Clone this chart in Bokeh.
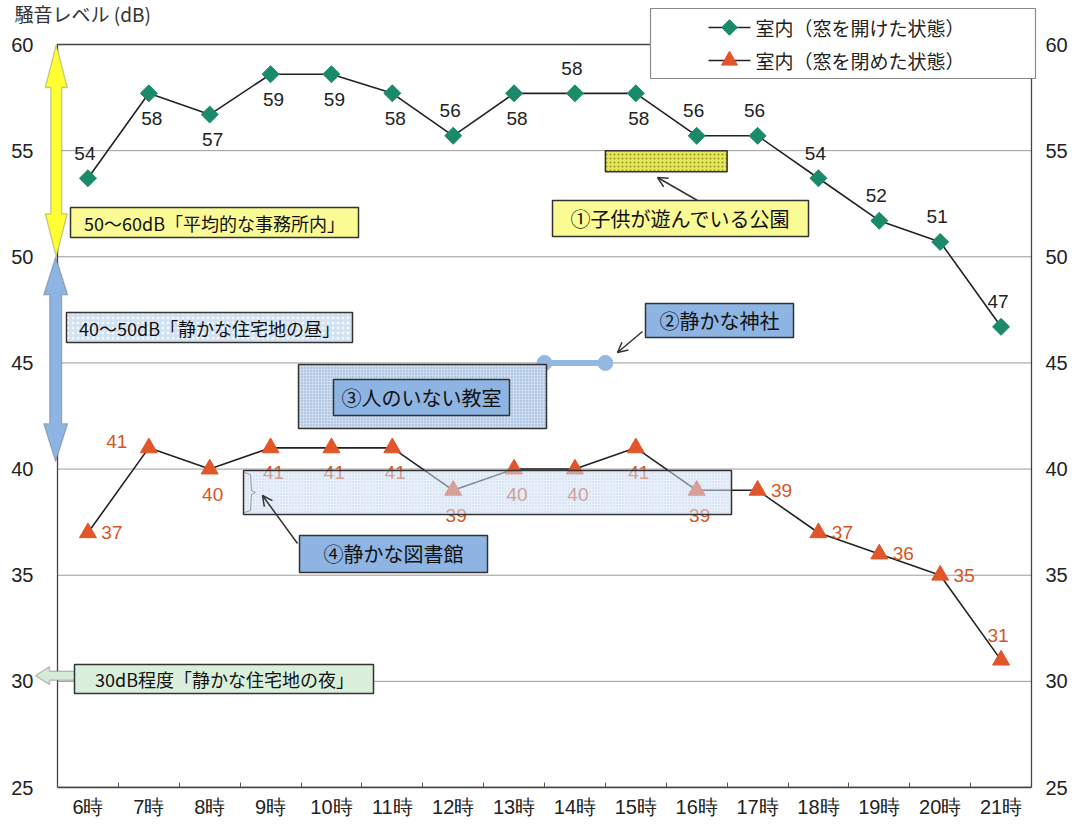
from bokeh.plotting import figure
from bokeh.models import (Range1d, LinearAxis, FixedTicker, BoxAnnotation, Label,
                          PolyAnnotation, Arrow, OpenHead, ColumnDataSource)
from bokeh.core.properties import value
from bokeh.embed import file_html
from bokeh.resources import INLINE

# ---------------- data ----------------
hours = ["6時", "7時", "8時", "9時", "10時", "11時", "12時", "13時",
         "14時", "15時", "16時", "17時", "18時", "19時", "20時", "21時"]
open_vals = [53.7, 57.7, 56.7, 58.6, 58.6, 57.7, 55.7, 57.7,
             57.7, 57.7, 55.7, 55.7, 53.7, 51.7, 50.7, 46.7]
open_labels = ["54", "58", "57", "59", "59", "58", "56", "58",
               "58", "58", "56", "56", "54", "52", "51", "47"]
closed_vals = [37, 41, 40, 41, 41, 41, 39, 40, 40, 41, 39, 39, 37, 36, 35, 31]
closed_labels = [str(v) for v in closed_vals]
y_ticks = [25, 30, 35, 40, 45, 50, 55, 60]
series_names = ["室内（窓を開けた状態）", "室内（窓を閉めた状態）"]

# reference levels (annotation content)
office_range = (50, 60)
day_range = (40, 50)
night_level = 30

# ---------------- style / layout ----------------
W, H = 1074, 826
PX_PER_X = 60.875          # px per category slot
PX_PER_Y = 743 / 35        # px per dB
DX = 1 / PX_PER_X
DY = 1 / PX_PER_Y
NUM_FONT = "Liberation Sans"
JP_FONT = "Noto Sans CJK JP"
GREEN = "#1b8a6b"
ORANGE = "#e0562a"
BOX_LINE = "#333333"
AXIS_COL = "#444444"

# label placement codes: a=above b=below r=right l=left
open_pos = ["a", "b", "b", "b", "b", "b", "a", "b", "a", "b", "a", "a", "a", "a", "a", "a"]
closed_pos = ["r", "l", "b", "b", "b", "b", "b", "b", "b", "b", "b", "r", "r", "r", "r", "a"]
OFFS = {"a": (-3, -25), "b": (3, 25), "r": (24, 0), "l": (-32, -6)}

xs = [i + 0.5 for i in range(len(hours))]


def px_x(px):
    return (px - 57) * DX


def px_y(py):
    return 25 + (787 - py) * DY


# frame spans px 12..1040 horizontally and 0..787 vertically
p = figure(width=W, height=H, output_backend="svg", toolbar_location=None,
           x_range=Range1d(px_x(12), px_x(1040)), y_range=Range1d(25, px_y(0)),
           min_border_left=12, min_border_right=34, min_border_top=0, min_border_bottom=39,
           background_fill_color="white", border_fill_color="white")
p.outline_line_color = None

# axes
xax = p.xaxis[0]
xax.ticker = FixedTicker(ticks=xs, minor_ticks=list(range(1, 16)))
xax.major_label_overrides = {x: h for x, h in zip(xs, hours)}
xax.bounds = (0, 16)
xax.major_tick_in = 0
xax.major_tick_out = 0
xax.minor_tick_in = 5
xax.minor_tick_out = 0
xax.minor_tick_line_color = "#555555"
xax.axis_line_color = AXIS_COL
xax.axis_line_width = 1.3
xax.major_label_text_font = NUM_FONT
xax.major_label_text_font_size = "20px"
xax.major_label_text_color = "#222222"
xax.major_label_standoff = 8

yax = p.yaxis[0]
yax.ticker = FixedTicker(ticks=y_ticks, minor_ticks=[])
yax.major_tick_in = 0
yax.major_tick_out = 0
yax.axis_line_color = None
yax.major_label_text_font = NUM_FONT
yax.major_label_text_font_size = "20px"
yax.major_label_text_color = "#222222"
yax.major_label_standoff = -21

rax = LinearAxis(ticker=FixedTicker(ticks=y_ticks, minor_ticks=[]),
                 major_tick_in=0, major_tick_out=0, axis_line_color=None,
                 major_label_text_font=NUM_FONT, major_label_text_font_size="20px",
                 major_label_text_color="#222222", major_label_standoff=5)
p.add_layout(rax, "right")

p.xgrid.visible = False
p.ygrid.visible = False

# grid lines and plot box (limited to the category span)
grid_y = y_ticks[1:-1]
p.segment(x0=[0] * len(grid_y), x1=[16] * len(grid_y), y0=grid_y, y1=grid_y,
          line_color="#9a9a9a", line_width=1)
p.quad(left=[0], right=[16], bottom=[y_ticks[0]], top=[y_ticks[-1]],
       fill_color=None, line_color=AXIS_COL, line_width=1.3)

# ---------------- series ----------------
src_o = ColumnDataSource(dict(x=xs, y=open_vals, t=open_labels,
                              dx=[OFFS[c][0] for c in open_pos],
                              dy=[OFFS[c][1] for c in open_pos]))
src_c = ColumnDataSource(dict(x=xs, y=closed_vals, t=closed_labels,
                              dx=[OFFS[c][0] for c in closed_pos],
                              dy=[OFFS[c][1] for c in closed_pos]))

p.line("x", "y", source=src_o, line_color="#222222", line_width=1.6)
p.scatter("x", "y", source=src_o, marker="square", angle=0.785398, size=12,
          fill_color=GREEN, line_color=GREEN)
p.line("x", "y", source=src_c, line_color="#222222", line_width=1.6)
p.scatter("x", "y", source=src_c, marker="triangle", size=17,
          fill_color=ORANGE, line_color=ORANGE)

p.text("x", "y", text="t", source=src_o, x_offset="dx", y_offset="dy",
       text_font=value(NUM_FONT), text_font_size="19px", text_color="#222222",
       text_align="center", text_baseline="middle")
p.text("x", "y", text="t", source=src_c, x_offset="dx", y_offset="dy",
       text_font=value(NUM_FONT), text_font_size="19px", text_color="#d9541e",
       text_align="center", text_baseline="middle")

# ---------------- legend (drawn as glyphs) ----------------
p.quad(left=[px_x(650)], right=[px_x(1035)], top=[px_y(8)], bottom=[px_y(78)],
       fill_color="white", line_color="#8a8a8a", line_width=1.2)
leg_y = [px_y(27), px_y(60)]
p.segment(x0=[px_x(708)] * 2, x1=[px_x(750)] * 2, y0=leg_y, y1=leg_y,
          line_color="#222222", line_width=1.6)
p.scatter([px_x(729)], [leg_y[0]], marker="square", angle=0.785398, size=11,
          fill_color=GREEN, line_color=GREEN)
p.scatter([px_x(729)], [leg_y[1]], marker="triangle", size=16,
          fill_color=ORANGE, line_color=ORANGE)
p.text([px_x(755)] * 2, leg_y, text=series_names, text_font=value(JP_FONT),
       text_font_size="19px", text_color="#222222", text_align="left", text_baseline="middle")


def box(l, r, t, b, fill, hatch=None, hatch_color=None, alpha=1.0, hatch_alpha=0.8, hscale=4):
    kw = dict(left=l, right=r, top=t, bottom=b, fill_color=fill, fill_alpha=alpha,
              line_color=BOX_LINE, line_width=1.5, line_alpha=1)
    if hatch:
        kw.update(hatch_pattern=hatch, hatch_color=hatch_color, hatch_alpha=hatch_alpha,
                  hatch_scale=hscale, hatch_weight=1)
    b_ = BoxAnnotation(**kw)
    p.add_layout(b_)
    return b_


def label(x, y, text, size="19px", color="#111111", font=JP_FONT, align="center"):
    p.add_layout(Label(x=x, y=y, text=text, text_font=font, text_font_size=size,
                       text_color=color, text_align=align, text_baseline="middle"))


def darrow(x0, yt, yb, h_px, hw_px, sw_px, fill):
    h = h_px * DY
    hw = hw_px * DX
    sw = sw_px * DX
    xs_ = [x0, x0 + hw, x0 + sw, x0 + sw, x0 + hw, x0, x0 - hw, x0 - sw, x0 - sw, x0 - hw]
    ys_ = [yt, yt - h, yt - h, yb + h, yb + h, yb, yb + h, yb + h, yt - h, yt - h]
    p.add_layout(PolyAnnotation(xs=xs_, ys=ys_, fill_color=fill, fill_alpha=1,
                                line_color="#444444", line_width=1.3))


def arrow(x0, y0, x1, y1):
    p.add_layout(Arrow(end=OpenHead(size=10, line_width=1.5, line_color="#333333"),
                       x_start=x0, y_start=y0, x_end=x1, y_end=y1,
                       line_color="#333333", line_width=1.5))


# left reference double arrows
darrow(-0.02, office_range[1], office_range[0], 43, 11, 5.5, "#ffff33")
darrow(-0.03, day_range[1], day_range[0] + 0.35, 38, 12, 6, "#8db4e2")

# hollow arrow for night level
tipx, basex, endx = px_x(35), px_x(49), px_x(76)
cy = night_level + 0.27
hh, sh = 9 * DY, 4.5 * DY
p.add_layout(PolyAnnotation(xs=[tipx, basex, basex, endx, endx, basex, basex],
                            ys=[cy, cy + hh, cy + sh, cy + sh, cy - sh, cy - sh, cy - hh],
                            fill_color="#d6ecd8", fill_alpha=1, line_color="#3a4a3a", line_width=1.5))

# level boxes
box(px_x(70), px_x(358), px_y(207), px_y(237), "#fbfb96")
label(px_x(214), px_y(222), "50～60dB「平均的な事務所内」", "18px")
box(px_x(66), px_x(352), px_y(312), px_y(342), "#d3e2f3", "dot", "white", 1.0, 0.9, 5)
label(px_x(209), px_y(327), "40～50dB「静かな住宅地の昼」", "18px")
box(px_x(74), px_x(373), px_y(664), px_y(693), "#d9efdc")
label(px_x(224), px_y(678.5), "30dB程度「静かな住宅地の夜」", "18px")

# (1) park
box(9.0, 11.0, 55.0, 54.0, "#e6e65a", "dot", "#8d8d1e", 1.0, 0.9, 4)
arrow(px_x(697), px_y(200), px_x(657), px_y(177))
box(px_x(552), px_x(808), px_y(200), px_y(236), "#fbfb96")
label(px_x(680), px_y(218), "①子供が遊んでいる公園", "20px")

# (2) shrine
p.line([8.0, 9.0], [45, 45], line_color="#95b8e2", line_width=6)
p.scatter([8.0, 9.0], [45, 45], size=15, fill_color="#95b8e2", line_color="#95b8e2")
arrow(px_x(642), px_y(331), px_x(617), px_y(352))
box(px_x(645), px_x(793), px_y(303), px_y(337), "#8db4e2")
label(px_x(719), px_y(320), "②静かな神社", "20px")

# (3) empty classroom
box(px_x(298), px_x(546), px_y(364), px_y(428), "#cddcef", "dot", "#6f95c9", 1.0, 0.75, 3)
box(px_x(333), px_x(509), px_y(379), px_y(415), "#8db4e2")
label(px_x(421), px_y(397), "③人のいない教室", "20px")

# (4) library
box(px_x(243), px_x(731), px_y(470), px_y(514), "#d3e2f3", "dot", "#a8c2e2", 0.5, 0.6, 3)
p.line([px_x(244), px_x(250), px_x(251), px_x(255), px_x(251), px_x(250), px_x(244)],
       [px_y(472), px_y(474), px_y(490), px_y(492), px_y(494), px_y(510), px_y(512)],
       line_color="#444444", line_width=1)
arrow(px_x(297), px_y(543), px_x(262), px_y(495))
box(px_x(299), px_x(487), px_y(535), px_y(572), "#8db4e2")
label(px_x(393), px_y(553), "④静かな図書館", "20px")

# axis title (top-left)
label(px_x(14), px_y(13), "騒音レベル (dB)", "19px", "#333333", JP_FONT, "left")

open("out.html", "w").write(file_html(p, INLINE))
